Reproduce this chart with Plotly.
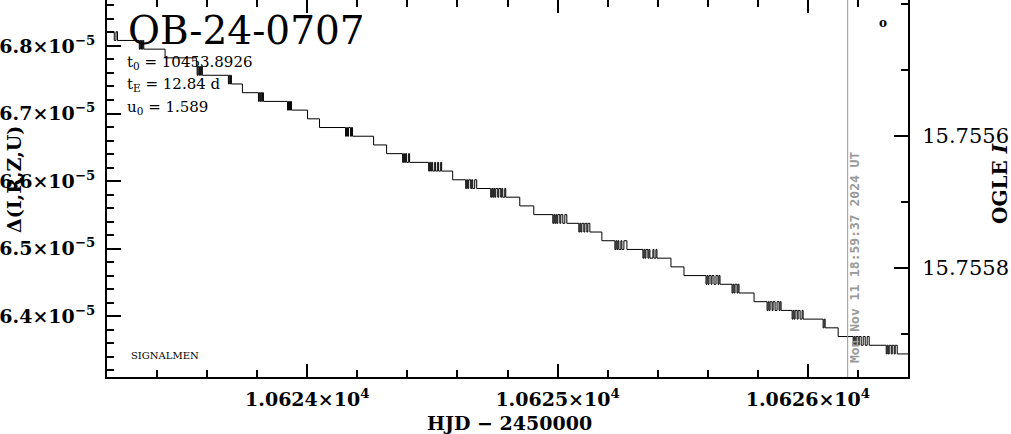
import plotly.graph_objects as go

# ---- data ----
# quantised levels of Delta(I,R,Z,U), in units of 1e-5 (level index k = position - 1)
levels_e5 = [6.82104, 6.80815, 6.79526, 6.78237, 6.76948, 6.75659, 6.74370, 6.73081,
             6.71792, 6.70503, 6.69214, 6.67925, 6.66636, 6.65347, 6.64058, 6.62769,
             6.61480, 6.60191, 6.58902, 6.57613, 6.56324, 6.55035, 6.53746, 6.52457,
             6.51168, 6.49879, 6.48590, 6.47301, 6.46012, 6.44723, 6.43434, 6.42145,
             6.40856, 6.39567, 6.38278, 6.36989, 6.35700, 6.34411]

# times (HJD-2450000) at which the curve changes level, and the level index it goes to
event_hjd = [
    10623.190, 10623.229, 10623.236, 10623.242,
    10623.329, 10623.332, 10623.335, 10623.338, 10623.341, 10623.344, 10623.347,
    10623.432,
    10623.557, 10623.560, 10623.563, 10623.567, 10623.570, 10623.574, 10623.577, 10623.581,
    10623.685, 10623.688, 10623.691, 10623.694, 10623.697,
    10623.741,
    10623.805, 10623.808, 10623.811, 10623.814, 10623.818, 10623.821, 10623.825,
    10623.921, 10623.925, 10623.929, 10623.933, 10623.937,
    10624.001, 10624.049,
    10624.153, 10624.157, 10624.161, 10624.165, 10624.173, 10624.177, 10624.181,
    10624.265, 10624.317,
    10624.381, 10624.385, 10624.389, 10624.393, 10624.397, 10624.405, 10624.409,
    10624.485, 10624.489, 10624.493, 10624.497, 10624.501, 10624.509, 10624.513,
    10624.521, 10624.525, 10624.533, 10624.537,
    10624.581,
    10624.633, 10624.637, 10624.641, 10624.645, 10624.653, 10624.657, 10624.661,
    10624.669, 10624.677,
    10624.733, 10624.737, 10624.741, 10624.745, 10624.749, 10624.753, 10624.761,
    10624.765, 10624.773, 10624.777, 10624.781, 10624.789, 10624.793,
    10624.849, 10624.905,
    10624.981, 10624.985, 10624.989, 10624.993, 10624.997, 10625.001, 10625.009,
    10625.013, 10625.021, 10625.029, 10625.037,
    10625.085, 10625.089, 10625.093, 10625.097, 10625.105, 10625.109, 10625.117,
    10625.121, 10625.129,
    10625.177,
    10625.229, 10625.233, 10625.237, 10625.241, 10625.245, 10625.253, 10625.257,
    10625.265, 10625.277,
    10625.341, 10625.345, 10625.349, 10625.353, 10625.361, 10625.365, 10625.369,
    10625.381, 10625.385, 10625.393, 10625.397,
    10625.453, 10625.505,
    10625.593, 10625.597, 10625.601, 10625.605, 10625.613, 10625.617, 10625.625,
    10625.633, 10625.641, 10625.645, 10625.649,
    10625.697, 10625.701, 10625.705, 10625.709, 10625.717, 10625.721, 10625.725,
    10625.785,
    10625.837, 10625.841, 10625.845, 10625.849, 10625.857, 10625.861, 10625.869,
    10625.877, 10625.885, 10625.889, 10625.893,
    10625.937, 10625.941, 10625.945, 10625.949, 10625.957, 10625.961, 10625.969,
    10625.977, 10625.981,
    10626.061, 10626.065, 10626.069,
    10626.121,
    10626.181, 10626.185, 10626.189, 10626.193, 10626.201, 10626.205, 10626.213,
    10626.221, 10626.229, 10626.237, 10626.245,
    10626.313, 10626.317, 10626.321, 10626.325, 10626.333, 10626.337, 10626.345,
    10626.349, 10626.357,
    10626.410,
]
event_level = [
    -1, 0, -1, 0,
    1, 0, 1, 0, 1, 0, 1,
    2,
    3, 4, 3, 4, 3, 4, 3, 4,
    5, 4, 5, 4, 5,
    6,
    7, 6, 7, 6, 7, 6, 7,
    8, 7, 8, 7, 8,
    9, 10,
    11, 10, 11, 10, 11, 10, 11,
    12, 13,
    14, 13, 14, 13, 14, 13, 14,
    15, 14, 15, 14, 15, 14, 15,
    14, 15, 14, 15,
    16,
    17, 16, 17, 16, 17, 16, 17,
    16, 17,
    18, 17, 18, 17, 18, 17, 18,
    17, 18, 17, 18, 17, 18,
    19, 20,
    21, 20, 21, 20, 21, 20, 21,
    20, 21, 20, 21,
    22, 21, 22, 21, 22, 21, 22,
    21, 22,
    23,
    24, 23, 24, 23, 24, 23, 24,
    23, 24,
    25, 24, 25, 24, 25, 24, 25,
    24, 25, 24, 25,
    26, 27,
    28, 27, 28, 27, 28, 27, 28,
    27, 28, 27, 28,
    29, 28, 29, 28, 29, 28, 29,
    30,
    31, 30, 31, 30, 31, 30, 31,
    30, 31, 30, 31,
    32, 31, 32, 31, 32, 31, 32,
    31, 32,
    33, 32, 33,
    34,
    35, 34, 35, 34, 35, 34, 35,
    34, 35, 34, 35,
    36, 35, 36, 35, 36, 35, 36,
    35, 36,
    36,
]

x_ticks = [10624, 10625, 10626]
x_tick_text = ["1.0624×10<sup>4</sup>", "1.0625×10<sup>4</sup>", "1.0626×10<sup>4</sup>"]
y_ticks_e5 = [6.4, 6.5, 6.6, 6.7, 6.8]
y_tick_text = ["6.4×10<sup>−5</sup>", "6.5×10<sup>−5</sup>", "6.6×10<sup>−5</sup>",
               "6.7×10<sup>−5</sup>", "6.8×10<sup>−5</sup>"]
mag_ticks = [15.7556, 15.7558]
mag_tick_text = ["15.7556", "15.7558"]
mag_minor = [15.7554, 15.7555, 15.7557, 15.7559]

now_hjd = 10626.159
now_label = "Mon Nov 11 18:59:37 2024 UT"
event_name = "OB-24-0707"
param_lines = ["t<sub>0</sub> = 10453.8926", "t<sub>E</sub> = 12.84 d", "u<sub>0</sub> = 1.589"]

x_range = [10623.2, 10626.4]
y_range = [6.3100e-5, 6.8680e-5]
mag_range = [15.7559655, 15.7553935]

# ---- figure ----
yvals = [levels_e5[k + 1] * 1e-5 for k in event_level]

SERIF = "DejaVu Serif"
fig = go.Figure()
fig.add_trace(go.Scatter(x=event_hjd, y=yvals, mode="lines",
                         line=dict(color="black", width=1, shape="hv"),
                         hoverinfo="skip", showlegend=False))
fig.add_trace(go.Scatter(x=[x_range[0]], y=[mag_range[0]], xaxis="x", yaxis="y2",
                         mode="markers", marker=dict(opacity=0), showlegend=False, hoverinfo="skip"))
fig.add_trace(go.Scatter(x=[x_range[0]], y=[y_range[0]], xaxis="x2", yaxis="y",
                         mode="markers", marker=dict(opacity=0), showlegend=False, hoverinfo="skip"))

x_minor = [round(10623.2 + 0.2 * i, 1) for i in range(17)]
y_minor = [round(6.32 + 0.02 * i, 2) * 1e-5 for i in range(28)]

tickfont_bold = dict(family=SERIF, size=19, color="black", weight="bold")

fig.update_layout(
    width=1011, height=434,
    margin=dict(l=107, r=103, t=0, b=57),
    paper_bgcolor="white", plot_bgcolor="white",
    showlegend=False,
    xaxis=dict(range=x_range, showgrid=False, zeroline=False,
               showline=True, linecolor="black", linewidth=2,
               ticks="inside", ticklen=13, tickwidth=2, tickcolor="black",
               tickmode="array", tickvals=x_ticks, ticktext=x_tick_text,
               tickfont=tickfont_bold, ticklabelstandoff=4,
               minor=dict(tickmode="array", tickvals=x_minor, ticks="inside",
                          ticklen=7, tickwidth=2, tickcolor="black", showgrid=False)),
    xaxis2=dict(overlaying="x", matches="x", side="top", range=x_range,
                showgrid=False, zeroline=False, showline=False,
                ticks="inside", ticklen=13, tickwidth=2, tickcolor="black",
                tickmode="array", tickvals=x_ticks, showticklabels=False,
                minor=dict(tickmode="array", tickvals=x_minor, ticks="inside",
                           ticklen=7, tickwidth=2, tickcolor="black", showgrid=False)),
    yaxis=dict(range=y_range, showgrid=False, zeroline=False,
               showline=True, linecolor="black", linewidth=2,
               ticks="inside", ticklen=14, tickwidth=2, tickcolor="black",
               tickmode="array", tickvals=[v * 1e-5 for v in y_ticks_e5], ticktext=y_tick_text,
               tickfont=tickfont_bold, ticklabelstandoff=6,
               minor=dict(tickmode="array", tickvals=y_minor, ticks="inside",
                          ticklen=7, tickwidth=2, tickcolor="black", showgrid=False)),
    yaxis2=dict(overlaying="y", side="right", range=mag_range,
                showgrid=False, zeroline=False,
                showline=True, linecolor="black", linewidth=2,
                ticks="inside", ticklen=14, tickwidth=2, tickcolor="black",
                tickmode="array", tickvals=mag_ticks, ticktext=mag_tick_text,
                tickfont=dict(family=SERIF, size=21, color="black"), ticklabelstandoff=8,
                minor=dict(tickmode="array", tickvals=mag_minor, ticks="inside",
                           ticklen=7, tickwidth=2, tickcolor="black", showgrid=False)),
)

fig.add_shape(type="line", xref="x", yref="paper", x0=now_hjd, x1=now_hjd, y0=0, y1=1,
              line=dict(color="#999999", width=1))

ann = []
ann.append(dict(text=event_name, xref="paper", yref="paper", x=0.024, y=0.918,
                xanchor="left", yanchor="middle", showarrow=False,
                font=dict(family=SERIF, size=39, color="black")))
for txt, yy in zip(param_lines, [0.834, 0.775, 0.715]):
    ann.append(dict(text=txt, xref="paper", yref="paper", x=0.0225, y=yy,
                    xanchor="left", yanchor="middle", showarrow=False,
                    font=dict(family=SERIF, size=15, color="black")))
ann.append(dict(text="SIGNALMEN", xref="paper", yref="paper", x=0.0275, y=0.058,
                xanchor="left", yanchor="middle", showarrow=False,
                font=dict(family=SERIF, size=10, color="black")))
ann.append(dict(text="o", xref="paper", yref="paper", x=0.969, y=0.938,
                xanchor="center", yanchor="middle", showarrow=False,
                font=dict(family=SERIF, size=12, color="black", weight="bold")))
ann.append(dict(text=now_label, xref="x", yref="paper", x=now_hjd + 0.030, y=0.316,
                xanchor="center", yanchor="middle", textangle=-90, showarrow=False,
                font=dict(family="DejaVu Sans Mono", size=13, color="#999999", weight="bold")))
ann.append(dict(text="Δ(I,R,Z,U)", xref="paper", yref="paper", x=-0.1161, y=0.5225,
                xanchor="center", yanchor="middle", textangle=-90, showarrow=False,
                font=dict(family=SERIF, size=19, color="black", weight="bold")))
ann.append(dict(text="OGLE <i>I</i>", xref="paper", yref="paper", x=1.1149, y=0.512,
                xanchor="center", yanchor="middle", textangle=-90, showarrow=False,
                font=dict(family=SERIF, size=20, color="black", weight="bold")))
ann.append(dict(text="HJD − 2450000", xref="paper", yref="paper", x=0.502, y=-0.121,
                xanchor="center", yanchor="middle", showarrow=False,
                font=dict(family=SERIF, size=19, color="black", weight="bold")))
fig.update_layout(annotations=ann)

fig.write_html("out.html",
               config={"displayModeBar": False},
               post_script="document.body.style.margin='0';"
                           "document.documentElement.style.overflow='hidden';")
